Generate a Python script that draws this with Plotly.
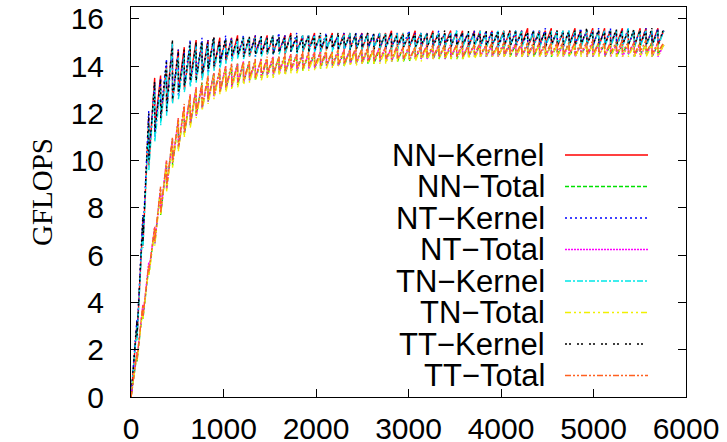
import plotly.graph_objects as go

# Matrix sizes (x) at which each sawtooth tooth peaks
SIZES = [64, 128, 192, 256, 320, 384, 448, 512, 576, 640,
         704, 768, 832, 896, 960, 1024, 1088, 1152, 1216, 1280,
         1344, 1408, 1472, 1536, 1600, 1664, 1728, 1792, 1856, 1920,
         1984, 2048, 2112, 2176, 2240, 2304, 2368, 2432, 2496, 2560,
         2624, 2688, 2752, 2816, 2880, 2944, 3008, 3072, 3136, 3200,
         3264, 3328, 3392, 3456, 3520, 3584, 3648, 3712, 3776, 3840,
         3904, 3968, 4032, 4096, 4160, 4224, 4288, 4352, 4416, 4480,
         4544, 4608, 4672, 4736, 4800, 4864, 4928, 4992, 5056, 5120,
         5184, 5248, 5312, 5376, 5440, 5504, 5568, 5632, 5696, 5760]

NN_KERNEL_PEAK = [3.1, 7.4, 11.8, 13.5, 13.6, 14.0, 15.0, 14.7, 14.8, 14.9,
                  15.1, 15.0, 15.1, 15.2, 15.2, 15.1, 15.2, 15.3, 15.1, 15.2,
                  15.3, 15.2, 15.3, 15.3, 15.2, 15.3, 15.4, 15.2, 15.3, 15.3,
                  15.4, 15.3, 15.3, 15.4, 15.3, 15.4, 15.4, 15.3, 15.4, 15.4,
                  15.3, 15.4, 15.4, 15.5, 15.4, 15.4, 15.3, 15.5, 15.4, 15.4,
                  15.5, 15.4, 15.4, 15.5, 15.4, 15.5, 15.4, 15.5, 15.5, 15.4,
                  15.5, 15.4, 15.5, 15.5, 15.4, 15.5, 15.6, 15.4, 15.5, 15.5,
                  15.6, 15.5, 15.5, 15.4, 15.6, 15.5, 15.5, 15.6, 15.5, 15.6,
                  15.5, 15.5, 15.6, 15.5, 15.5, 15.6, 15.6, 15.5, 15.6, 15.5]
NN_KERNEL_LOW = [0.0, 2.5, 6.4, 9.8, 11.3, 11.7, 12.3, 12.5, 12.9, 13.0,
                 13.4, 13.5, 13.5, 13.9, 13.9, 14.2, 14.2, 14.3, 14.5, 14.4,
                 14.4, 14.6, 14.5, 14.5, 14.6, 14.6, 14.5, 14.7, 14.6, 14.6,
                 14.7, 14.7, 14.6, 14.7, 14.8, 14.7, 14.7, 14.8, 14.7, 14.7,
                 14.8, 14.8, 14.7, 14.8, 14.8, 14.9, 14.8, 14.8, 14.9, 14.8,
                 14.8, 14.9, 14.8, 14.9, 14.9, 14.8, 14.9, 14.8, 14.9, 14.9,
                 14.8, 14.9, 14.9, 14.8, 14.9, 14.9, 14.9, 14.8, 14.9, 14.9,
                 14.9, 14.9, 14.8, 14.9, 14.9, 14.9, 14.9, 14.9, 14.9, 14.8,
                 14.9, 14.9, 14.9, 14.9, 14.9, 14.8, 14.9, 14.9, 14.9, 14.9]

NN_TOTAL_PEAK = [1.8, 3.8, 5.5, 7.1, 8.8, 9.9, 10.9, 11.7, 12.3, 12.7,
                 13.0, 13.3, 13.5, 13.7, 13.8, 13.9, 14.0, 14.1, 14.1, 14.2,
                 14.2, 14.3, 14.3, 14.3, 14.4, 14.4, 14.4, 14.5, 14.5, 14.5,
                 14.5, 14.6, 14.6, 14.6, 14.6, 14.6, 14.7, 14.7, 14.7, 14.7,
                 14.7, 14.7, 14.7, 14.8, 14.8, 14.8, 14.8, 14.8, 14.8, 14.8,
                 14.8, 14.8, 14.9, 14.8, 14.9, 14.8, 14.9, 14.9, 14.9, 14.9,
                 14.9, 14.9, 14.9, 14.9, 14.9, 14.9, 14.9, 14.9, 14.9, 14.9,
                 14.9, 14.9, 14.9, 15.0, 14.9, 14.9, 14.9, 14.9, 15.0, 14.9,
                 14.9, 14.9, 14.9, 15.0, 14.9, 14.9, 14.9, 15.0, 14.9, 14.9]
NN_TOTAL_LOW = [0.0, 1.5, 3.3, 5.2, 6.5, 7.7, 8.8, 9.8, 10.5, 11.1,
                11.5, 11.9, 12.2, 12.5, 12.7, 12.9, 13.0, 13.1, 13.2, 13.3,
                13.4, 13.4, 13.5, 13.6, 13.6, 13.7, 13.7, 13.8, 13.8, 13.8,
                13.9, 13.9, 13.9, 14.0, 14.0, 14.0, 14.0, 14.1, 14.1, 14.1,
                14.1, 14.1, 14.2, 14.2, 14.2, 14.2, 14.2, 14.2, 14.3, 14.3,
                14.3, 14.3, 14.3, 14.3, 14.3, 14.3, 14.3, 14.4, 14.4, 14.4,
                14.4, 14.4, 14.4, 14.4, 14.4, 14.4, 14.4, 14.4, 14.4, 14.4,
                14.4, 14.4, 14.5, 14.4, 14.4, 14.4, 14.5, 14.4, 14.4, 14.5,
                14.4, 14.5, 14.4, 14.5, 14.5, 14.4, 14.5, 14.5, 14.4, 14.5]

NT_KERNEL_PEAK = [3.3, 7.7, 12.1, 13.3, 13.5, 14.3, 14.9, 14.7, 14.6, 15.1,
                  14.9, 15.2, 15.1, 15.2, 15.0, 15.3, 15.2, 15.1, 15.3, 15.2,
                  15.3, 15.3, 15.2, 15.2, 15.4, 15.3, 15.2, 15.4, 15.3, 15.3,
                  15.3, 15.3, 15.4, 15.3, 15.3, 15.4, 15.3, 15.4, 15.4, 15.3,
                  15.4, 15.4, 15.3, 15.4, 15.4, 15.3, 15.5, 15.4, 15.4, 15.4,
                  15.3, 15.5, 15.4, 15.4, 15.5, 15.4, 15.4, 15.5, 15.4, 15.5,
                  15.5, 15.5, 15.4, 15.4, 15.5, 15.5, 15.4, 15.5, 15.5, 15.6,
                  15.4, 15.5, 15.5, 15.5, 15.4, 15.6, 15.5, 15.5, 15.6, 15.5,
                  15.6, 15.5, 15.5, 15.6, 15.5, 15.5, 15.6, 15.5, 15.6, 15.5]
NT_KERNEL_LOW = [0.0, 2.7, 6.7, 10.1, 11.0, 11.9, 12.0, 12.7, 12.7, 13.2,
                 13.2, 13.5, 13.6, 13.7, 14.0, 14.0, 14.3, 14.3, 14.4, 14.5,
                 14.5, 14.4, 14.6, 14.6, 14.5, 14.6, 14.7, 14.6, 14.6, 14.7,
                 14.7, 14.6, 14.7, 14.8, 14.7, 14.7, 14.7, 14.7, 14.8, 14.8,
                 14.7, 14.8, 14.8, 14.7, 14.8, 14.8, 14.9, 14.8, 14.8, 14.8,
                 14.9, 14.8, 14.8, 14.9, 14.8, 14.9, 14.9, 14.8, 14.9, 14.8,
                 14.9, 14.9, 14.8, 14.9, 14.9, 14.8, 14.9, 14.9, 14.9, 14.8,
                 14.9, 14.9, 14.9, 14.8, 14.9, 14.9, 14.9, 14.9, 14.8, 14.9,
                 14.9, 14.9, 14.8, 14.9, 14.9, 14.9, 14.9, 14.9, 14.8, 14.9]

NT_TOTAL_PEAK = [1.9, 3.9, 5.7, 7.2, 8.8, 10.0, 10.9, 11.8, 12.3, 12.8,
                 13.1, 13.2, 13.5, 13.7, 13.8, 14.0, 14.0, 14.1, 14.2, 14.2,
                 14.2, 14.3, 14.3, 14.4, 14.4, 14.4, 14.5, 14.5, 14.5, 14.5,
                 14.6, 14.6, 14.6, 14.6, 14.6, 14.7, 14.7, 14.7, 14.7, 14.7,
                 14.7, 14.8, 14.8, 14.8, 14.8, 14.8, 14.8, 14.8, 14.8, 14.9,
                 14.8, 14.9, 14.8, 14.9, 14.9, 14.9, 14.9, 14.9, 14.9, 14.9,
                 14.9, 14.9, 14.9, 14.9, 15.0, 14.9, 14.9, 14.9, 14.9, 15.0,
                 14.9, 14.9, 14.9, 14.9, 15.0, 14.9, 14.9, 15.0, 14.9, 14.9,
                 15.0, 14.9, 14.9, 14.9, 15.0, 14.9, 14.9, 14.9, 15.0, 14.9]
NT_TOTAL_LOW = [0.0, 1.6, 3.4, 5.3, 6.5, 7.8, 8.8, 9.9, 10.5, 11.2,
                11.5, 11.9, 12.2, 12.5, 12.7, 12.9, 13.0, 13.1, 13.3, 13.3,
                13.4, 13.5, 13.5, 13.6, 13.6, 13.7, 13.7, 13.8, 13.8, 13.9,
                13.9, 13.9, 14.0, 14.0, 14.0, 14.0, 14.1, 14.1, 14.1, 14.1,
                14.2, 14.2, 14.2, 14.2, 14.2, 14.3, 14.3, 14.3, 14.3, 14.3,
                14.3, 14.3, 14.4, 14.3, 14.4, 14.4, 14.4, 14.4, 14.4, 14.4,
                14.4, 14.4, 14.4, 14.4, 14.5, 14.4, 14.4, 14.4, 14.5, 14.4,
                14.4, 14.5, 14.4, 14.4, 14.5, 14.4, 14.5, 14.4, 14.4, 14.5,
                14.4, 14.4, 14.5, 14.4, 14.5, 14.4, 14.4, 14.5, 14.4, 14.4]

TN_KERNEL_PEAK = [3.0, 7.3, 11.6, 13.2, 13.1, 13.9, 15.0, 14.4, 14.5, 14.9,
                  14.9, 15.0, 14.9, 15.2, 15.0, 15.1, 15.1, 15.1, 15.2, 15.2,
                  15.2, 15.2, 15.2, 15.3, 15.2, 15.2, 15.3, 15.2, 15.3, 15.3,
                  15.3, 15.3, 15.3, 15.3, 15.3, 15.3, 15.4, 15.3, 15.3, 15.4,
                  15.3, 15.4, 15.4, 15.3, 15.4, 15.4, 15.4, 15.3, 15.4, 15.4,
                  15.4, 15.4, 15.4, 15.4, 15.5, 15.4, 15.4, 15.4, 15.5, 15.4,
                  15.4, 15.5, 15.5, 15.4, 15.5, 15.5, 15.4, 15.5, 15.5, 15.4,
                  15.5, 15.5, 15.5, 15.5, 15.5, 15.4, 15.5, 15.5, 15.5, 15.5,
                  15.5, 15.5, 15.5, 15.6, 15.5, 15.5, 15.5, 15.5, 15.5, 15.5]
TN_KERNEL_LOW = [0.0, 2.4, 6.3, 9.6, 10.8, 11.5, 11.9, 12.4, 12.6, 12.9,
                 13.1, 13.3, 13.4, 13.6, 13.8, 13.9, 14.1, 14.2, 14.3, 14.3,
                 14.4, 14.4, 14.4, 14.5, 14.5, 14.5, 14.5, 14.6, 14.5, 14.6,
                 14.6, 14.6, 14.6, 14.7, 14.6, 14.7, 14.7, 14.7, 14.7, 14.7,
                 14.7, 14.7, 14.7, 14.8, 14.7, 14.7, 14.8, 14.8, 14.7, 14.8,
                 14.8, 14.8, 14.8, 14.8, 14.8, 14.8, 14.8, 14.8, 14.8, 14.8,
                 14.8, 14.8, 14.8, 14.8, 14.8, 14.9, 14.8, 14.8, 14.8, 14.8,
                 14.8, 14.8, 14.9, 14.8, 14.8, 14.8, 14.8, 14.9, 14.8, 14.8,
                 14.8, 14.8, 14.8, 14.8, 14.9, 14.8, 14.8, 14.8, 14.8, 14.8]

TN_TOTAL_PEAK = [1.8, 3.8, 5.5, 7.1, 8.7, 9.9, 10.8, 11.7, 12.3, 12.7,
                 13.0, 13.2, 13.5, 13.6, 13.8, 13.9, 14.0, 14.0, 14.1, 14.2,
                 14.2, 14.2, 14.3, 14.3, 14.4, 14.4, 14.4, 14.4, 14.5, 14.5,
                 14.5, 14.5, 14.6, 14.6, 14.6, 14.6, 14.6, 14.7, 14.7, 14.7,
                 14.7, 14.7, 14.7, 14.7, 14.8, 14.8, 14.8, 14.8, 14.8, 14.8,
                 14.8, 14.8, 14.8, 14.8, 14.9, 14.8, 14.8, 14.9, 14.8, 14.9,
                 14.9, 14.8, 14.9, 14.9, 14.9, 14.9, 14.9, 14.9, 14.9, 14.9,
                 14.9, 14.9, 14.9, 14.9, 14.9, 14.9, 14.9, 14.9, 14.9, 14.9,
                 14.9, 14.9, 14.9, 14.9, 14.9, 15.0, 14.9, 14.9, 14.9, 14.9]
TN_TOTAL_LOW = [0.0, 1.5, 3.3, 5.1, 6.4, 7.7, 8.7, 9.7, 10.4, 11.0,
                11.4, 11.8, 12.1, 12.4, 12.6, 12.8, 12.9, 13.0, 13.1, 13.2,
                13.3, 13.4, 13.4, 13.5, 13.5, 13.6, 13.6, 13.7, 13.7, 13.8,
                13.8, 13.8, 13.9, 13.9, 13.9, 14.0, 14.0, 14.0, 14.0, 14.1,
                14.1, 14.1, 14.1, 14.1, 14.2, 14.2, 14.2, 14.2, 14.2, 14.2,
                14.3, 14.3, 14.3, 14.3, 14.3, 14.3, 14.3, 14.3, 14.3, 14.4,
                14.4, 14.4, 14.4, 14.4, 14.4, 14.4, 14.4, 14.4, 14.4, 14.4,
                14.4, 14.4, 14.4, 14.4, 14.4, 14.4, 14.4, 14.4, 14.4, 14.4,
                14.4, 14.4, 14.4, 14.4, 14.4, 14.4, 14.4, 14.4, 14.4, 14.4]

TT_KERNEL_PEAK = [3.2, 7.6, 12.0, 13.4, 13.4, 14.2, 15.1, 14.6, 14.7, 15.0,
                  15.0, 15.1, 15.0, 15.3, 15.1, 15.2, 15.1, 15.2, 15.2, 15.3,
                  15.2, 15.3, 15.2, 15.3, 15.3, 15.2, 15.3, 15.3, 15.2, 15.3,
                  15.3, 15.4, 15.3, 15.3, 15.4, 15.3, 15.3, 15.4, 15.3, 15.4,
                  15.4, 15.3, 15.4, 15.4, 15.3, 15.4, 15.4, 15.4, 15.3, 15.4,
                  15.4, 15.4, 15.5, 15.4, 15.4, 15.4, 15.5, 15.4, 15.4, 15.5,
                  15.4, 15.5, 15.4, 15.5, 15.5, 15.4, 15.5, 15.5, 15.4, 15.5,
                  15.5, 15.5, 15.4, 15.5, 15.5, 15.5, 15.6, 15.5, 15.5, 15.5,
                  15.5, 15.6, 15.5, 15.5, 15.6, 15.5, 15.5, 15.6, 15.5, 15.6]
TT_KERNEL_LOW = [0.0, 2.6, 6.6, 10.0, 11.2, 11.8, 12.1, 12.6, 12.8, 13.1,
                 13.3, 13.4, 13.6, 13.8, 14.0, 14.1, 14.3, 14.4, 14.4, 14.4,
                 14.5, 14.5, 14.5, 14.6, 14.5, 14.6, 14.6, 14.6, 14.6, 14.7,
                 14.6, 14.7, 14.7, 14.7, 14.7, 14.7, 14.8, 14.7, 14.7, 14.8,
                 14.8, 14.7, 14.8, 14.8, 14.8, 14.8, 14.8, 14.8, 14.8, 14.9,
                 14.8, 14.8, 14.9, 14.8, 14.8, 14.9, 14.8, 14.9, 14.8, 14.9,
                 14.9, 14.8, 14.9, 14.9, 14.8, 14.9, 14.9, 14.9, 14.9, 14.9,
                 14.8, 14.9, 14.9, 14.9, 14.9, 14.9, 14.9, 14.9, 14.9, 14.9,
                 14.9, 14.9, 14.9, 14.9, 14.9, 14.9, 14.9, 14.9, 14.9, 14.9]

TT_TOTAL_PEAK = [1.9, 3.9, 5.6, 7.2, 8.9, 10.0, 11.0, 11.8, 12.4, 12.8,
                 13.1, 13.3, 13.6, 13.7, 13.9, 14.0, 14.1, 14.1, 14.2, 14.2,
                 14.3, 14.3, 14.4, 14.4, 14.4, 14.5, 14.5, 14.5, 14.6, 14.6,
                 14.6, 14.6, 14.7, 14.6, 14.7, 14.7, 14.7, 14.8, 14.7, 14.8,
                 14.8, 14.8, 14.8, 14.8, 14.9, 14.8, 14.9, 14.8, 14.9, 14.9,
                 14.9, 14.9, 14.9, 14.9, 14.9, 15.0, 14.9, 14.9, 15.0, 14.9,
                 15.0, 14.9, 15.0, 15.0, 14.9, 15.0, 15.0, 15.0, 15.0, 15.0,
                 15.0, 15.0, 15.0, 15.0, 15.0, 15.0, 15.0, 15.1, 15.0, 15.0,
                 15.0, 15.0, 15.1, 15.0, 15.0, 15.0, 15.1, 15.0, 15.0, 15.0]
TT_TOTAL_LOW = [0.0, 1.6, 3.4, 5.3, 6.6, 7.8, 8.9, 9.9, 10.6, 11.2,
                11.6, 12.0, 12.3, 12.6, 12.8, 12.9, 13.1, 13.2, 13.3, 13.4,
                13.5, 13.5, 13.6, 13.7, 13.7, 13.8, 13.8, 13.9, 13.9, 13.9,
                14.0, 14.0, 14.0, 14.1, 14.1, 14.1, 14.1, 14.2, 14.2, 14.2,
                14.2, 14.2, 14.3, 14.3, 14.3, 14.3, 14.3, 14.3, 14.4, 14.4,
                14.4, 14.4, 14.4, 14.4, 14.4, 14.4, 14.4, 14.5, 14.5, 14.5,
                14.5, 14.5, 14.5, 14.5, 14.5, 14.5, 14.5, 14.5, 14.5, 14.5,
                14.5, 14.5, 14.6, 14.5, 14.5, 14.5, 14.6, 14.5, 14.5, 14.6,
                14.5, 14.6, 14.5, 14.6, 14.6, 14.5, 14.6, 14.6, 14.5, 14.6]

SERIES_NAMES = ["NN\u2212Kernel", "NN\u2212Total", "NT\u2212Kernel", "NT\u2212Total",
                "TN\u2212Kernel", "TN\u2212Total", "TT\u2212Kernel", "TT\u2212Total"]
SERIES_PEAKS = [NN_KERNEL_PEAK, NN_TOTAL_PEAK, NT_KERNEL_PEAK, NT_TOTAL_PEAK,
                TN_KERNEL_PEAK, TN_TOTAL_PEAK, TT_KERNEL_PEAK, TT_TOTAL_PEAK]
SERIES_LOWS = [NN_KERNEL_LOW, NN_TOTAL_LOW, NT_KERNEL_LOW, NT_TOTAL_LOW,
               TN_KERNEL_LOW, TN_TOTAL_LOW, TT_KERNEL_LOW, TT_TOTAL_LOW]
X_TICKS = [0, 1000, 2000, 3000, 4000, 5000, 6000]
Y_TICKS = [0, 2, 4, 6, 8, 10, 12, 14, 16]

COLORS = ["#ff0000", "#00e000", "#0000ff", "#ff00ff",
          "#00e8e8", "#f0f000", "#000000", "#ff6020"]
DASHES = ["solid", "4px,2px", "2px,3px", "2px,1px",
          "6px,2px,2px,2px", "6px,3px,2px,3px,2px,3px", "2px,2px,2px,6px",
          "6px,2px,2px,2px,2px,2px"]

for p, l in zip(SERIES_PEAKS, SERIES_LOWS):
    assert len(p) == len(SIZES) and len(l) == len(SIZES)


def sawtooth(peaks, lows):
    xs, ys = [], []
    prev = 0
    for size, pk, lo in zip(SIZES, peaks, lows):
        xs += [prev + 1, size]
        ys += [lo, pk]
        prev = size
    return xs, ys


fig = go.Figure()
for name, pk, lo, col, dash in zip(SERIES_NAMES, SERIES_PEAKS, SERIES_LOWS, COLORS, DASHES):
    xs, ys = sawtooth(pk, lo)
    fig.add_trace(go.Scatter(x=xs, y=ys, mode="lines", name=name,
                             line=dict(color=col, width=1.4, dash=dash),
                             showlegend=False))

W, H = 727, 442
ML, MR, MT, MB = 131, 41, 7, 45
PW, PH = W - ML - MR, H - MT - MB

# gnuplot-style key: right-aligned label, line sample on its right
annotations = []
shapes = []
for i, (name, col, dash) in enumerate(zip(SERIES_NAMES, COLORS, DASHES)):
    yp = (H - MB - 155 - i * 31.5) / PH
    annotations.append(dict(text=name, xref="paper", yref="paper",
                            x=(546 - ML) / PW, y=yp, xanchor="right", yanchor="middle",
                            showarrow=False, borderpad=0,
                            font=dict(family="Liberation Sans", size=31, color="black")))
    shapes.append(dict(type="line", xref="paper", yref="paper",
                       x0=(565 - ML) / PW, x1=(648 - ML) / PW, y0=yp, y1=yp,
                       line=dict(color=col, width=1.6, dash=dash)))

annotations.append(dict(text="GFLOPS", xref="paper", yref="paper",
                        x=(42 - ML) / PW, y=(H - MB - 192) / PH,
                        xanchor="center", yanchor="middle", textangle=-90,
                        showarrow=False,
                        font=dict(family="Liberation Serif", size=29, color="black")))

axis_common = dict(showline=True, linecolor="black", linewidth=1, mirror="ticks",
                   ticks="inside", ticklen=8, tickcolor="black", tickwidth=1,
                   showgrid=False, zeroline=False, automargin=False,
                   tickfont=dict(family="Liberation Sans", size=30, color="black"))

fig.update_layout(
    width=W, height=H,
    margin=dict(l=ML, r=MR, t=MT, b=MB, pad=0),
    paper_bgcolor="white", plot_bgcolor="white",
    xaxis=dict(range=[0, 6000], tickvals=X_TICKS, ticktext=[str(v) for v in X_TICKS],
               ticklabelstandoff=5, **axis_common),
    yaxis=dict(range=[0, 16.5], tickvals=Y_TICKS, ticktext=[str(v) for v in Y_TICKS],
               ticklabelstandoff=20, **axis_common),
    annotations=annotations,
    shapes=shapes,
    showlegend=False,
)

fig.write_html("out.html", config={"displayModeBar": False},
               post_script="document.body.style.margin='0px';document.body.style.overflow='hidden';")
